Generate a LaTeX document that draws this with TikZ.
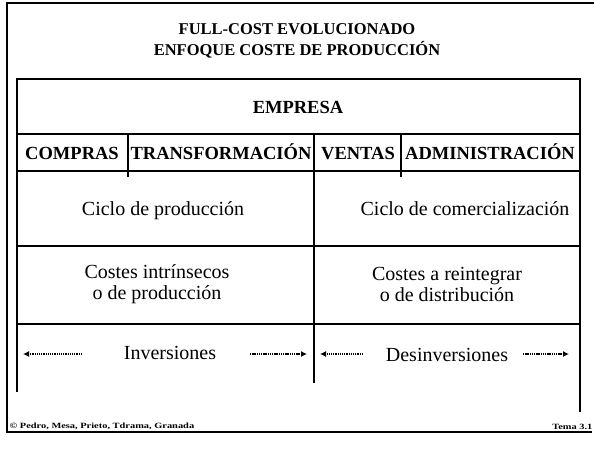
\documentclass[tikz,border=0pt]{standalone}
\usepackage{fontspec}
\setmainfont{Liberation Serif}
\usetikzlibrary{arrows.meta}
\begin{document}
\begin{tikzpicture}[x=1pt,y=1pt,
  frame/.style={line width=2.4pt},
  rule/.style={line width=2pt},
  ttl/.style={font=\fontsize{16.5}{21.5}\selectfont\bfseries, align=center},
  hdr/.style={font=\fontsize{18.5}{20}\selectfont\bfseries, anchor=base},
  body/.style={font=\fontsize{20}{21}\selectfont, align=center},
  foot/.style={font=\fontsize{8}{9}\selectfont\bfseries, xscale=1.3, transform shape, inner sep=1pt},
  darr/.style={line width=1.6pt, dash pattern=on 1.3pt off 0.9pt, -{Latex[length=6pt,width=6pt]}}]
\useasboundingbox (0,0) rectangle (594,-448);
% outer frame
\draw[frame] (594,-3) -- (7,-3) -- (7,-432) -- (592,-432);
% inner table
\draw[rule] (17,-392) -- (17,-79) -- (580,-79) -- (580,-412);
\draw[rule] (17,-134) -- (580,-134);
\draw[rule] (17,-171) -- (580,-171);
\draw[rule] (17,-246) -- (580,-246);
\draw[rule] (17,-324) -- (580,-324);
\draw[rule] (128,-134) -- (128,-177);
\draw[rule] (401,-134) -- (401,-177);
\draw[rule] (314,-134) -- (314,-383);
% title
\node[ttl] (title) at (297,-41) {FULL-COST EVOLUCIONADO\\ENFOQUE COSTE DE PRODUCCIÓN};
\node[hdr] (empresa) at (298,-113) {EMPRESA};
\node[hdr] (compras) at (72,-159.5) {COMPRAS};
\node[hdr] (transf) at (221,-159.5) {TRANSFORMACIÓN};
\node[hdr] (ventas) at (358,-159.5) {VENTAS};
\node[hdr] (admin) at (490,-159.5) {ADMINISTRACIÓN};
\node[body, anchor=base] (cprod) at (163,-215) {Ciclo de producción};
\node[body, anchor=base] (ccom) at (465,-215) {Ciclo de comercialización};
\node[body] (cint) at (157,-284) {Costes intrínsecos\\o de producción};
\node[body] (crei) at (447,-284) {Costes a reintegrar\\o de distribución};
\node[body] (inv) at (170,-353) {Inversiones};
\node[body] (desinv) at (447,-355) {Desinversiones};
% arrows
\coordinate (a1s) at (82,-354);  \coordinate (a1e) at (23,-354);
\coordinate (a2s) at (250,-354); \coordinate (a2e) at (307,-354);
\coordinate (a3s) at (363,-354); \coordinate (a3e) at (320,-354);
\coordinate (a4s) at (523,-354); \coordinate (a4e) at (569,-354);
\draw[darr] (a1s) -- (a1e);
\draw[darr] (a2s) -- (a2e);
\draw[darr] (a3s) -- (a3e);
\draw[darr] (a4s) -- (a4e);
% footer
\node[foot, anchor=south west] (fl) at (8,-431) {© Pedro, Mesa, Prieto, Tdrama, Granada};
\node[foot, anchor=south east] (fr) at (594,-431) {Tema 3.1};
\end{tikzpicture}
\end{document}
